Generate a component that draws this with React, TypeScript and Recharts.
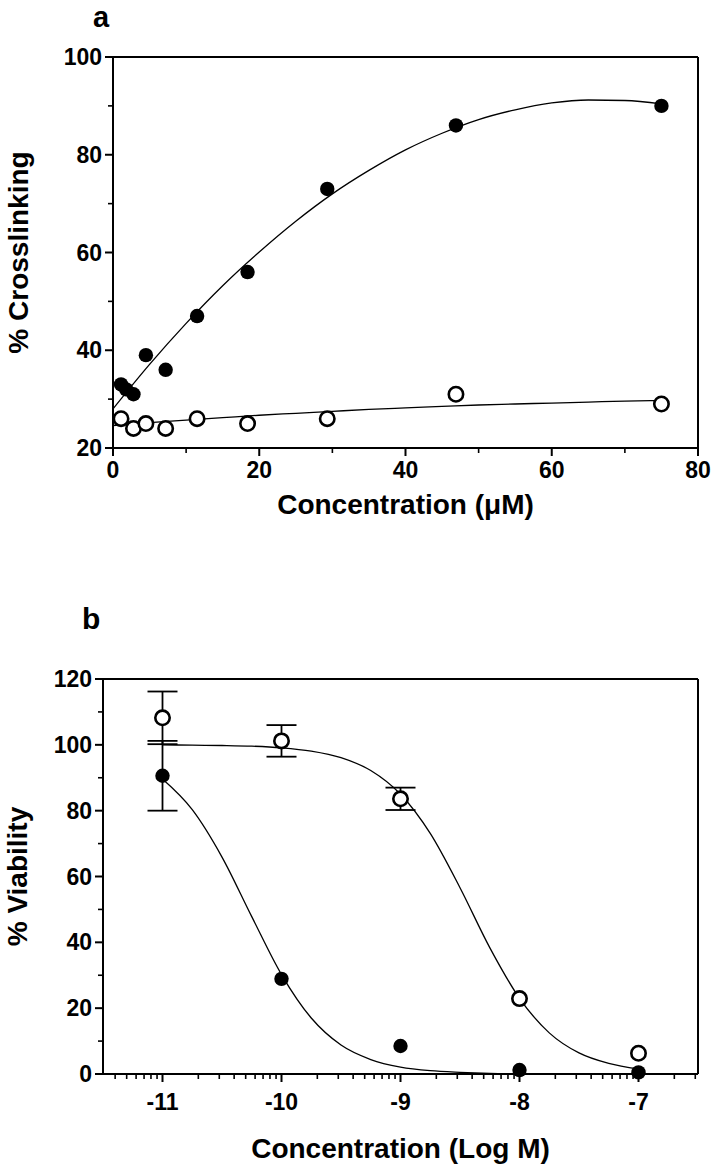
import React from 'react';
import {
  ComposedChart,
  Scatter,
  Line,
  XAxis,
  YAxis,
  ReferenceLine,
  ErrorBar,
  Label,
} from 'recharts';

const FONT = '"Liberation Sans", Arial, Helvetica, sans-serif';

// ---------- Panel a data ----------
const concAFilled = [1.1, 1.8, 2.8, 4.5, 7.2, 11.5, 18.4, 29.3, 46.9, 75];
const crossFilled = [33, 32, 31, 39, 36, 47, 56, 73, 86, 90];
const concAOpen = [1.1, 2.8, 4.5, 7.2, 11.5, 18.4, 29.3, 46.9, 75];
const crossOpen = [26, 24, 25, 24, 26, 25, 26, 31, 29];
const fitAX = [0, 5, 10, 15, 20, 25, 30, 35, 40, 45, 50, 55, 60, 65, 70, 75];
const fitAFilled = [28.0, 37.1, 45.5, 53.2, 60.1, 66.4, 72.0, 76.8, 81.0, 84.4, 87.2, 89.2, 90.6, 91.2, 91.1, 90.4];
const fitAOpen = [24.6, 25.2, 25.7, 26.2, 26.7, 27.1, 27.5, 27.9, 28.2, 28.5, 28.8, 29.0, 29.2, 29.4, 29.6, 29.7];
const xMajorA = [0, 20, 40, 60, 80];
const xLabelsA = ['0', '20', '40', '60', '80'];
const xMinorA = [10, 30, 50, 70];
const yMajorA = [20, 40, 60, 80, 100];
const yLabelsA = ['20', '40', '60', '80', '100'];
const yMinorA = [30, 50, 70, 90];

// ---------- Panel b data ----------
const logConc = [-11, -10, -9, -8, -7];
const viabFilled = [90.6, 28.9, 8.5, 1.2, 0.5];
const viabFilledErr = [10.6, 0, 0, 0, 0];
const viabOpen = [108.2, 101.2, 83.6, 22.9, 6.3];
const viabOpenErr = [8.0, 4.8, 3.4, 0, 0];
const fitBX = [-11, -10.75, -10.5, -10.25, -10, -9.75, -9.5, -9.25, -9, -8.75, -8.5, -8.25, -8, -7.75, -7.5, -7.25, -7];
const fitBFilled = [89.6, 80.3, 65.9, 47.8, 30.2, 17.0, 8.8, 4.4, 2.1, 1.0, 0.5, 0.2, 0.1, 0.05, 0, 0, 0];
const fitBOpen = [100.0, 99.9, 99.8, 99.6, 99.1, 98.1, 96.1, 92.2, 85.0, 73.1, 56.6, 38.4, 23.0, 12.5, 6.4, 3.2, 1.5];
const xMajorB = [-11, -10, -9, -8, -7];
const xLabelsB = ['-11', '-10', '-9', '-8', '-7'];
const yMajorB = [0, 20, 40, 60, 80, 100, 120];
const yLabelsB = ['0', '20', '40', '60', '80', '100', '120'];
const yMinorB = [10, 30, 50, 70, 90, 110];

// log minor tick positions (axis structure)
const xMinorB: number[] = [];
[-12, -11, -10, -9, -8, -7].forEach((d) => {
  for (let k = 2; k <= 9; k++) {
    const v = d + Math.log10(k);
    if (v > -11.5 && v < -6.5) xMinorB.push(v);
  }
});

const zip = (xs: number[], ys: number[], es?: number[]) =>
  xs.map((x, i) => (es ? { x, y: ys[i], err: es[i] } : { x, y: ys[i] }));

const ptsAFilled = zip(concAFilled, crossFilled);
const ptsAOpen = zip(concAOpen, crossOpen);
const lineAFilled = zip(fitAX, fitAFilled);
const lineAOpen = zip(fitAX, fitAOpen);
const ptsBFilled = zip(logConc, viabFilled, viabFilledErr);
const ptsBOpen = zip(logConc, viabOpen, viabOpenErr);
const lineBFilled = zip(fitBX, fitBFilled);
const lineBOpen = zip(fitBX, fitBOpen);

const same = (a: number, b: number) => Math.abs(a - b) < 1e-6;

function makeXTick(majors: number[], labels: string[], labelDy: number) {
  return (props: any) => {
    const { x, y, payload } = props;
    const idx = majors.findIndex((m) => same(m, payload.value));
    const major = idx >= 0;
    return (
      <g>
        <line x1={x} x2={x} y1={y} y2={y + (major ? 8 : 5)} stroke="#000" strokeWidth={major ? 2 : 1.6} />
        {major && (
          <text x={x} y={y + labelDy} textAnchor="middle" fontFamily={FONT} fontWeight="bold" fontSize={23} fill="#000">
            {labels[idx]}
          </text>
        )}
      </g>
    );
  };
}

function makeYTick(majors: number[], labels: string[]) {
  return (props: any) => {
    const { x, y, payload } = props;
    const idx = majors.findIndex((m) => same(m, payload.value));
    const major = idx >= 0;
    return (
      <g>
        <line x1={x - (major ? 8 : 5)} x2={x} y1={y} y2={y} stroke="#000" strokeWidth={major ? 2 : 1.6} />
        {major && (
          <text x={x - 11} y={y + 8} textAnchor="end" fontFamily={FONT} fontWeight="bold" fontSize={23} fill="#000">
            {labels[idx]}
          </text>
        )}
      </g>
    );
  };
}

const xTitle = (text: string, dy: number) => (props: any) => {
  const vb = props.viewBox || {};
  const cx = vb.x + vb.width / 2;
  return (
    <text x={cx} y={vb.y + dy} textAnchor="middle" fontFamily={FONT} fontWeight="bold" fontSize={28} fill="#000">
      {text}
    </text>
  );
};

const yTitle = (text: string, dx: number) => (props: any) => {
  const vb = props.viewBox || {};
  const cx = vb.x + vb.width + dx;
  const cy = vb.y + vb.height / 2;
  return (
    <text
      x={cx}
      y={cy}
      transform={`rotate(-90, ${cx}, ${cy})`}
      textAnchor="middle"
      dominantBaseline="central"
      fontFamily={FONT}
      fontWeight="bold"
      fontSize={28}
      fill="#000"
    >
      {text}
    </text>
  );
};

const FilledDot = (p: any) => <circle cx={p.cx} cy={p.cy} r={7.2} fill="#000" />;
const OpenDot = (p: any) => <circle cx={p.cx} cy={p.cy} r={7.2} fill="#fff" stroke="#000" strokeWidth={2.6} />;

const axisLine = { stroke: '#000', strokeWidth: 2 };

function PanelA() {
  return (
    <ComposedChart width={712} height={560} margin={{ top: 57, right: 14, bottom: 72, left: 53 }}>
      <XAxis
        type="number"
        dataKey="x"
        domain={[0, 80]}
        ticks={[...xMajorA, ...xMinorA]}
        interval={0}
        tickLine={false}
        tickSize={0}
        tickMargin={0}
        axisLine={axisLine}
        height={40}
        tick={makeXTick(xMajorA, xLabelsA, 30)}
      >
        <Label content={xTitle('Concentration (\u03bcM)', 66)} />
      </XAxis>
      <YAxis
        type="number"
        domain={[20, 100]}
        ticks={[...yMajorA, ...yMinorA]}
        interval={0}
        tickLine={false}
        tickSize={0}
        tickMargin={0}
        axisLine={axisLine}
        width={60}
        tick={makeYTick(yMajorA, yLabelsA)}
      >
        <Label content={yTitle('% Crosslinking', -95)} />
      </YAxis>
      <ReferenceLine y={100} stroke="#000" strokeWidth={2} />
      <ReferenceLine x={80} stroke="#000" strokeWidth={2} />
      <Line data={lineAFilled} dataKey="y" type="monotone" dot={false} stroke="#000" strokeWidth={1.3} isAnimationActive={false} />
      <Line data={lineAOpen} dataKey="y" type="monotone" dot={false} stroke="#000" strokeWidth={1.3} isAnimationActive={false} />
      <Scatter data={ptsAFilled} dataKey="y" shape={FilledDot} isAnimationActive={false} />
      <Scatter data={ptsAOpen} dataKey="y" shape={OpenDot} isAnimationActive={false} />
    </ComposedChart>
  );
}

function PanelB() {
  return (
    <ComposedChart width={712} height={605} margin={{ top: 119, right: 14, bottom: 51, left: 43 }}>
      <XAxis
        type="number"
        dataKey="x"
        domain={[-11.5, -6.5]}
        ticks={[...xMajorB, ...xMinorB]}
        interval={0}
        tickLine={false}
        tickSize={0}
        tickMargin={0}
        axisLine={axisLine}
        height={40}
        tick={makeXTick(xMajorB, xLabelsB, 36)}
      >
        <Label content={xTitle('Concentration (Log M)', 84)} />
      </XAxis>
      <YAxis
        type="number"
        domain={[0, 120]}
        ticks={[...yMajorB, ...yMinorB]}
        interval={0}
        tickLine={false}
        tickSize={0}
        tickMargin={0}
        axisLine={axisLine}
        width={60}
        tick={makeYTick(yMajorB, yLabelsB)}
      >
        <Label content={yTitle('% Viability', -86)} />
      </YAxis>
      <ReferenceLine y={120} stroke="#000" strokeWidth={2} />
      <ReferenceLine x={-6.5} stroke="#000" strokeWidth={2} />
      <Line data={lineBFilled} dataKey="y" type="monotone" dot={false} stroke="#000" strokeWidth={1.3} isAnimationActive={false} />
      <Line data={lineBOpen} dataKey="y" type="monotone" dot={false} stroke="#000" strokeWidth={1.3} isAnimationActive={false} />
      <Scatter data={ptsBFilled} dataKey="y" shape={FilledDot} isAnimationActive={false}>
        <ErrorBar dataKey="err" direction="y" width={15} stroke="#000" strokeWidth={1.8} />
      </Scatter>
      <Scatter data={ptsBOpen} dataKey="y" shape={OpenDot} isAnimationActive={false}>
        <ErrorBar dataKey="err" direction="y" width={15} stroke="#000" strokeWidth={1.8} />
      </Scatter>
    </ComposedChart>
  );
}

export default function App() {
  return (
    <div style={{ position: 'absolute', left: 0, top: 0, width: 712, height: 1165, background: '#fff', overflow: 'hidden' }}>
      <div style={{ position: 'absolute', left: 0, top: 0 }}>
        <PanelA />
      </div>
      <div style={{ position: 'absolute', left: 0, top: 560 }}>
        <PanelB />
      </div>
      <svg width={712} height={1165} style={{ position: 'absolute', left: 0, top: 0, pointerEvents: 'none' }}>
        <text x={93} y={27} fontFamily={FONT} fontWeight="bold" fontSize={29} fill="#000">a</text>
        <text x={82} y={629} fontFamily={FONT} fontWeight="bold" fontSize={30} fill="#000">b</text>
      </svg>
    </div>
  );
}
